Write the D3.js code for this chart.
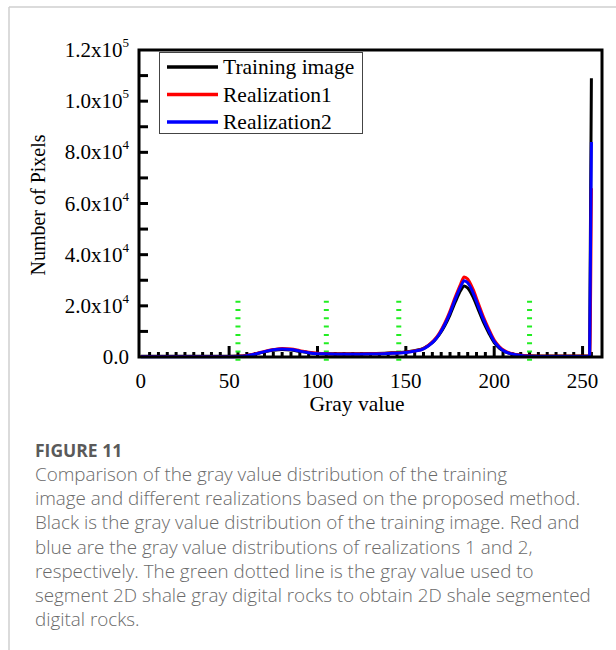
<!DOCTYPE html>
<html>
<head>
<meta charset="utf-8">
<script src="https://cdn.jsdelivr.net/npm/d3@7"></script>
<style>
  html, body { margin: 0; padding: 0; background: #fff; }
  svg { display: block; }
</style>
</head>
<body>
<svg id="chart" width="616" height="650"></svg>
<script>
// Gray-level histogram samples (gray value -> pixel count)
const grayLevels = [0,10,20,30,40,50,55,60,65,70,75,80,85,90,95,100,105,110,120,130,140,150,155,160,163,166,169,172,175,178,181,183,185,188,191,194,197,200,203,206,210,215,220,230,240,250,253,254,255];
const trainingImage = [300,300,300,300,300,300,350,600,1200,2000,2600,2900,2700,2200,1700,1400,1300,1300,1300,1400,1600,2000,2500,3400,4600,6300,8800,12200,16500,21500,26000,27800,27000,23500,18500,13500,9300,5600,3400,2100,1200,700,450,350,350,350,350,450,109000];
const realization1 = [200,200,200,200,200,200,300,600,1300,2200,2900,3300,3100,2500,1900,1500,1300,1200,1200,1300,1500,1900,2400,3300,4700,6600,9400,13200,18000,23500,28500,31300,30500,26500,21000,15500,10800,6600,4000,2400,1300,650,400,250,250,250,250,300,66000];
const realization2 = [100,100,100,100,100,100,200,500,1200,2100,2800,3100,2900,2300,1700,1300,1200,1100,1100,1200,1400,1800,2300,3200,4500,6300,9000,12700,17300,22700,27500,29800,29000,25200,19900,14600,10100,6100,3700,2200,1200,550,300,200,200,200,200,250,84000];

const seriesNames = ["Training image", "Realization1", "Realization2"];
const seriesColors = ["#000000", "#ff0000", "#0000ff"];

// Segmentation thresholds (green dotted lines)
const thresholds = [55, 105, 146, 220];

const xTickValues = [0, 50, 100, 150, 200, 250];
const yTickValues = [0, 20000, 40000, 60000, 80000, 100000, 120000];
const yTickMantissa = ["0.0", "2.0", "4.0", "6.0", "8.0", "1.0", "1.2"];
const yTickExponent = ["", "4", "4", "4", "4", "5", "5"];

const xLabel = "Gray value";
const yLabel = "Number of Pixels";
const figureTitle = "FIGURE 11";
const captionLines = [
  "Comparison of the gray value distribution of the training",
  "image and different realizations based on the proposed method.",
  "Black is the gray value distribution of the training image. Red and",
  "blue are the gray value distributions of realizations 1 and 2,",
  "respectively. The green dotted line is the gray value used to",
  "segment 2D shale gray digital rocks to obtain 2D shale segmented",
  "digital rocks."
];

const svg = d3.select("#chart");
const serif = "'Liberation Serif', 'Times New Roman', serif";

// page frame
svg.append("line").attr("x1", 9).attr("x2", 616).attr("y1", 7).attr("y2", 7)
  .attr("stroke", "#cfcfcf").attr("stroke-width", 1.5);
svg.append("line").attr("x1", 9).attr("x2", 9).attr("y1", 7).attr("y2", 650)
  .attr("stroke", "#cfcfcf").attr("stroke-width", 1.5);

const plot = { left: 139, right: 602, top: 50, bottom: 357 };
const x = d3.scaleLinear().domain([-1, 261]).range([plot.left, plot.right]);
const y = d3.scaleLinear().domain([0, 120000]).range([plot.bottom, plot.top]);

// x ticks: minor every 5, major every 50 (pointing inward)
const xMinor = d3.range(5, 260, 5);
svg.append("g").selectAll("line").data(xMinor).join("line")
  .attr("x1", d => x(d)).attr("x2", d => x(d))
  .attr("y1", plot.bottom).attr("y2", d => plot.bottom - (d % 50 === 0 ? 11 : 5))
  .attr("stroke", "#000").attr("stroke-width", 3);

// y ticks: every 1e4 pointing inward
const yMinor = d3.range(10000, 120000, 10000);
svg.append("g").selectAll("line").data(yMinor).join("line")
  .attr("x1", plot.left).attr("x2", plot.left + 9)
  .attr("y1", d => y(d)).attr("y2", d => y(d))
  .attr("stroke", "#000").attr("stroke-width", 3);

// x tick labels
svg.append("g").selectAll("text").data(xTickValues).join("text")
  .attr("x", d => x(d)).attr("y", 387.5)
  .attr("text-anchor", "middle")
  .attr("font-family", serif).attr("font-size", 21)
  .text(d => d);

// y tick labels with exponents
const yl = svg.append("g").selectAll("text").data(yTickValues).join("text")
  .attr("x", 129).attr("y", d => y(d) + 7)
  .attr("text-anchor", "end")
  .attr("font-family", serif).attr("font-size", 21);
yl.each(function(d, i) {
  const t = d3.select(this);
  if (yTickExponent[i]) {
    t.append("tspan").text(yTickMantissa[i] + "x10");
    t.append("tspan").attr("dy", -10).attr("font-size", 13).text(yTickExponent[i]);
  } else {
    t.append("tspan").text(yTickMantissa[i]);
  }
});

// axis titles
svg.append("text").attr("x", 357).attr("y", 411)
  .attr("text-anchor", "middle").attr("font-family", serif).attr("font-size", 21.5)
  .text(xLabel);
svg.append("text").attr("transform", "translate(45,205) rotate(-90)")
  .attr("text-anchor", "middle").attr("font-family", serif).attr("font-size", 20)
  .text(yLabel);

// green threshold lines
svg.append("g").selectAll("line").data(thresholds).join("line")
  .attr("x1", d => x(d)).attr("x2", d => x(d))
  .attr("y1", y(22000)).attr("y2", y(-2000))
  .attr("stroke", "#22ee22").attr("stroke-width", 5)
  .attr("stroke-dasharray", "2,6.3");

// histogram curves
const series = [trainingImage, realization1, realization2];
const line = d3.line()
  .x((d, i) => x(grayLevels[i]))
  .y(d => y(d))
  .curve(d3.curveMonotoneX);
svg.append("g").selectAll("path").data(series).join("path")
  .attr("d", d => line(d))
  .attr("fill", "none")
  .attr("stroke", (d, i) => seriesColors[i])
  .attr("stroke-width", 3)
  .attr("stroke-linejoin", "round");

// plot frame
svg.append("rect")
  .attr("x", plot.left).attr("y", plot.top)
  .attr("width", plot.right - plot.left).attr("height", plot.bottom - plot.top)
  .attr("fill", "none").attr("stroke", "#000").attr("stroke-width", 3);

// legend
const lg = svg.append("g");
lg.append("rect").attr("x", 159.5).attr("y", 52.5).attr("width", 203).attr("height", 81)
  .attr("fill", "#fff").attr("stroke", "#444").attr("stroke-width", 1);
seriesNames.forEach((name, i) => {
  const yy = 67 + i * 27.5;
  lg.append("line").attr("x1", 167).attr("x2", 218).attr("y1", yy).attr("y2", yy)
    .attr("stroke", seriesColors[i]).attr("stroke-width", 3.5);
  lg.append("text").attr("x", 223).attr("y", yy + 7)
    .attr("font-family", serif).attr("font-size", 21.5).text(name);
});

// caption
const sans = "'Open Sans', 'Lato', sans-serif";
svg.append("text").attr("x", 35).attr("y", 457)
  .attr("font-family", sans).attr("font-weight", 700).attr("font-size", 17.5)
  .attr("fill", "#5a5a5a").text(figureTitle);
const cap = svg.append("g").selectAll("text").data(captionLines).join("text")
  .attr("x", 35).attr("y", (d, i) => 481 + i * 24.2)
  .attr("font-family", sans).attr("font-weight", 300).attr("font-size", 16)
  .attr("fill", "#6a6a6a").text(d => d);
// fit the widest caption line to the text column
let widest = 0;
cap.each(function() { widest = Math.max(widest, this.getComputedTextLength()); });
const fs = 16 * 556 / widest;
cap.attr("font-size", fs);
</script>
</body>
</html>
